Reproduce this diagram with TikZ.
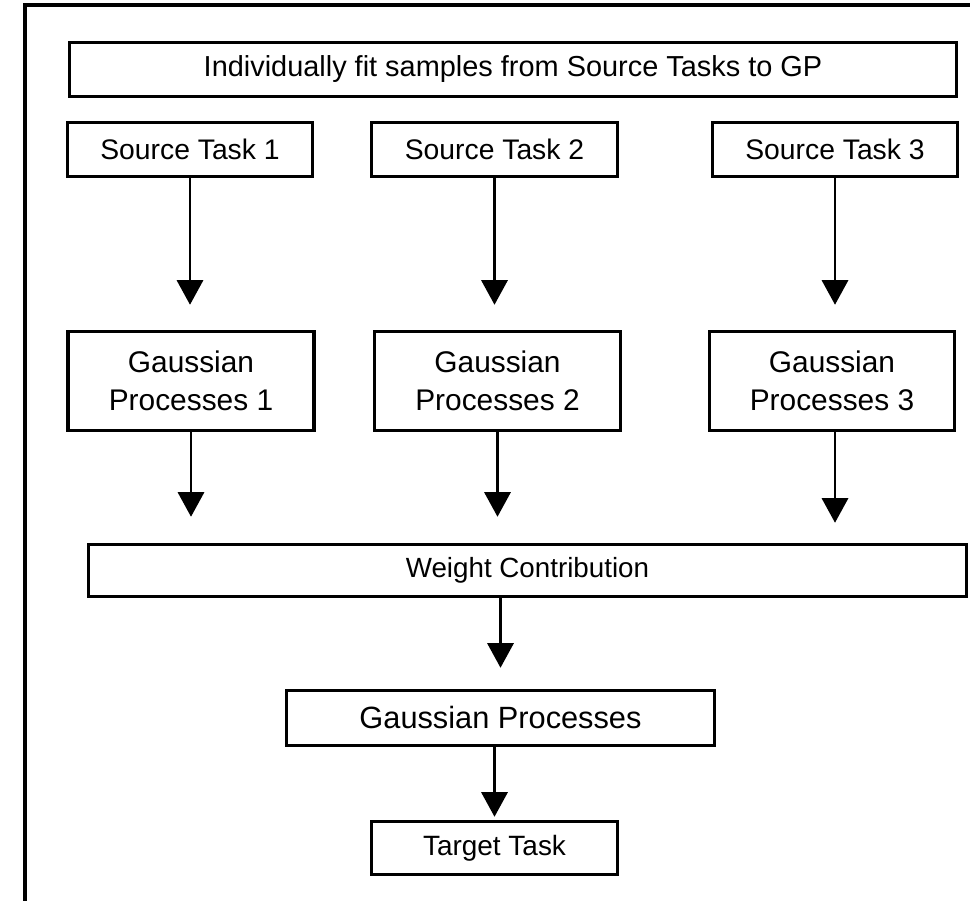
\documentclass[tikz,border=0pt]{standalone}
\usepackage{fontspec}
\setmainfont{Liberation Sans}
\usetikzlibrary{arrows.meta,calc}
\newcommand{\fs}[1]{\fontsize{#1}{21.5}\selectfont}

\begin{document}
\begin{tikzpicture}[
    box/.style={draw, line width=2pt, align=center, inner sep=0pt},
    flow/.style={line width=1.2pt, -{Triangle[width=15pt,length=14pt]}}
  ]
\useasboundingbox (0,0) rectangle (19.4,18.02);

%---------------- outer frame (cut at right and bottom) -----------------
\draw[line width=1.8pt] (0.5,0) -- (0.5,17.92) -- (19.4,17.92);

%---------------- source tasks -----------------
\node[box, minimum width=17.74cm, minimum height=1.08cm, font=\fs{16.45}] (fit) at (10.26,16.63)
      {Individually fit samples from Source Tasks to GP};
\node[box, minimum width=4.9cm, minimum height=1.08cm, font=\fs{16.1}] (st1) at (3.80,15.03) {Source Task 1};
\node[box, minimum width=4.92cm, minimum height=1.08cm, font=\fs{16.1}] (st2) at (9.89,15.03) {Source Task 2};
\node[box, minimum width=4.9cm, minimum height=1.08cm, font=\fs{16.1}] (st3) at (16.70,15.03) {Source Task 3};

%---------------- individual GPs -----------------
\node[box, minimum width=4.92cm, minimum height=1.98cm, font=\fs{17}] (gp1) at (3.82,10.40) {Gaussian\\Processes 1};
\node[box, minimum width=4.92cm, minimum height=1.98cm, font=\fs{17}] (gp2) at (9.95,10.40) {Gaussian\\Processes 2};
\node[box, minimum width=4.9cm, minimum height=1.98cm, font=\fs{17}] (gp3) at (16.64,10.40) {Gaussian\\Processes 3};

%---------------- combination and target -----------------
\node[box, minimum width=17.56cm, minimum height=1.04cm, font=\fs{15.8}] (wc) at (10.55,6.61) {Weight Contribution};
\node[box, minimum width=8.56cm, minimum height=1.1cm, font=\fs{17.5}] (gp) at (10.01,3.66) {Gaussian Processes};
\node[box, minimum width=4.92cm, minimum height=1.06cm, font=\fs{15.9}] (tt) at (9.89,1.06) {Target Task};

% arrows
\draw[flow, shorten >=0.5cm] (st1.south) -- (st1.south |- gp1.north);
\draw[flow, shorten >=0.5cm] (st2.south) -- (st2.south |- gp2.north);
\draw[flow, shorten >=0.5cm] (st3.south) -- (st3.south |- gp3.north);
\draw[flow, shorten >=0.52cm] (gp1.south) -- (gp1.south |- wc.north);
\draw[flow, shorten >=0.52cm] (gp2.south) -- (gp2.south |- wc.north);
\draw[flow, shorten >=0.4cm] ($(gp3.south)+(0.06,0)$) -- ($(gp3.south |- wc.north)+(0.06,0)$);
\draw[flow, shorten >=0.42cm] (wc.south -| gp.north) -- (gp.north);
\draw[flow, shorten >=0.06cm] (gp.south -| tt.north) -- (tt.north);

\end{tikzpicture}
\end{document}
